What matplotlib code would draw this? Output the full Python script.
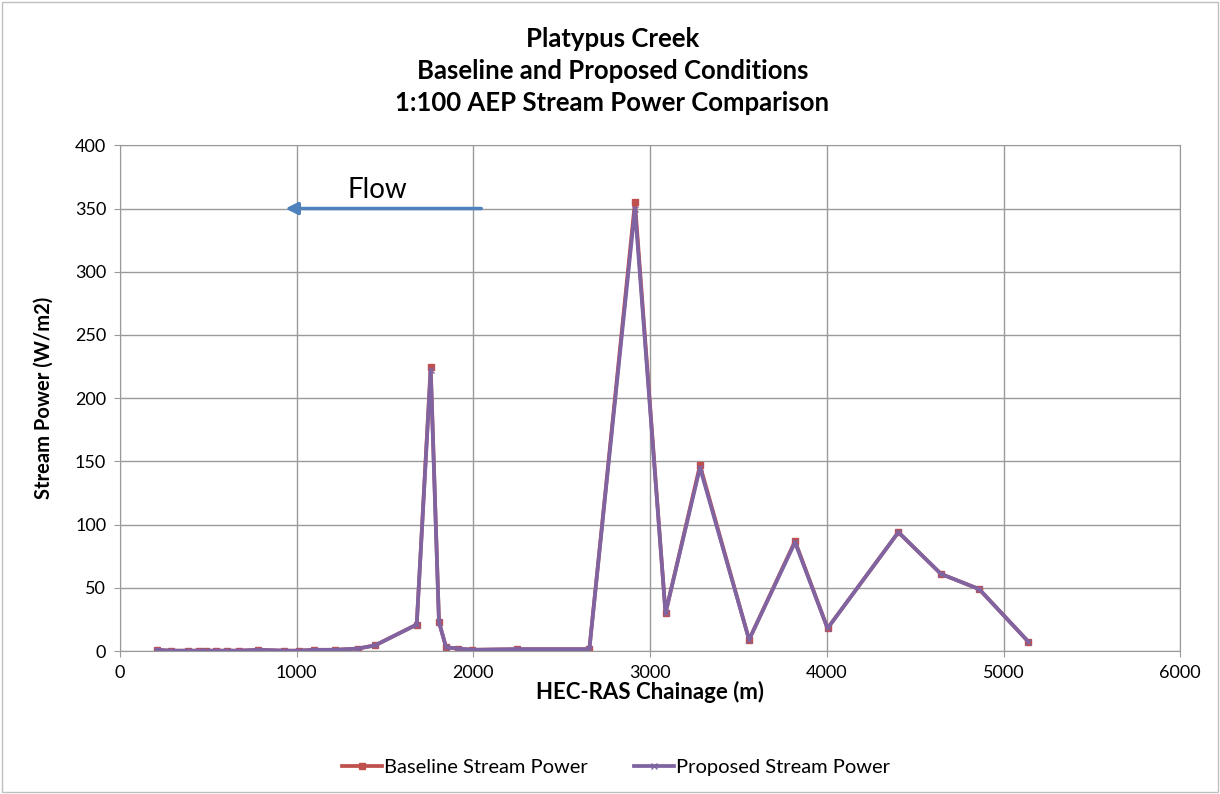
import matplotlib.pyplot as plt
import numpy as np

plt.rcParams['font.family'] = ['Lato', 'DejaVu Sans']

# chainage (m) and stream power (W/m2)
chainage = [207, 287, 387, 448, 487, 541, 607, 673, 783, 930, 1013, 1100,
            1217, 1347, 1443, 1679, 1758, 1805, 1845, 1913, 1994, 2245,
            2656, 2914, 3087, 3282, 3560, 3820, 4004, 4405, 4646, 4862, 5140]
baseline = [1, 0.3, 0.3, 0.3, 0.3, 0.3, 0.3, 0.3, 1, 0.3, 0.3, 1,
            1, 2, 4.5, 21, 225, 23, 3, 2, 1, 1.5,
            1.5, 355, 30, 147, 9, 87, 18, 94, 61, 49, 7.5]
proposed = [1, 0.3, 0.3, 0.3, 0.3, 0.3, 0.3, 0.3, 1, 0.3, 0.3, 1,
            1, 2, 4.5, 21, 222, 23, 3, 2, 1, 1.5,
            1.5, 350, 30, 145, 9, 86, 18, 94, 61, 49, 7.5]

fig = plt.figure(figsize=(12.2, 7.94), dpi=100)
ax = fig.add_axes([0.0984, 0.180, 0.869, 0.637])

ax.plot(chainage, baseline, color='#C0504D', lw=2.7, marker='s', ms=5,
        label='Baseline Stream Power')
ax.plot(chainage, proposed, color='#8064A2', lw=2.7, marker='x', ms=4,
        mew=1, label='Proposed Stream Power')

ax.set_xlim(0, 6000)
ax.set_ylim(0, 400)
ax.set_xticks(np.arange(0, 6001, 1000))
ax.set_yticks(np.arange(0, 401, 50))
ax.grid(True, color='#9A9A9A', lw=1)
ax.set_axisbelow(True)
for s in ax.spines.values():
    s.set_color('#9A9A9A')
ax.tick_params(labelsize=13, length=4, color='#9A9A9A', pad=6)

ax.set_xlabel('HEC-RAS Chainage (m)', fontsize=16, fontweight='bold', labelpad=0)
ax.set_ylabel('Stream Power (W/m2)', fontsize=14.5, fontweight='bold')
ax.yaxis.set_label_coords(-0.063, 0.5)

fig.text(0.502, 0.910, 'Platypus Creek\nBaseline and Proposed Conditions\n1:100 AEP Stream Power Comparison',
         ha='center', va='center', fontsize=18.5, fontweight='bold', linespacing=1.4)

# flow direction arrow
ax.annotate('', xy=(920, 350), xytext=(2060, 350),
            arrowprops=dict(arrowstyle='-|>', color='#4F81BD', lw=2.5, mutation_scale=18))
ax.text(1290, 365, 'Flow', fontsize=20, ha='left', va='center')

ax.legend(loc='center', bbox_to_anchor=(0.505, 0.034), bbox_transform=fig.transFigure,
          ncol=2, frameon=False, fontsize=14.5, handlelength=2, handletextpad=0.1,
          columnspacing=2.3)

fig.patches.append(plt.Rectangle((0.002, 0.002), 0.996, 0.996, transform=fig.transFigure,
                                 fill=False, edgecolor='#BFBFBF', lw=1))

fig.savefig('out.png', dpi=100)
